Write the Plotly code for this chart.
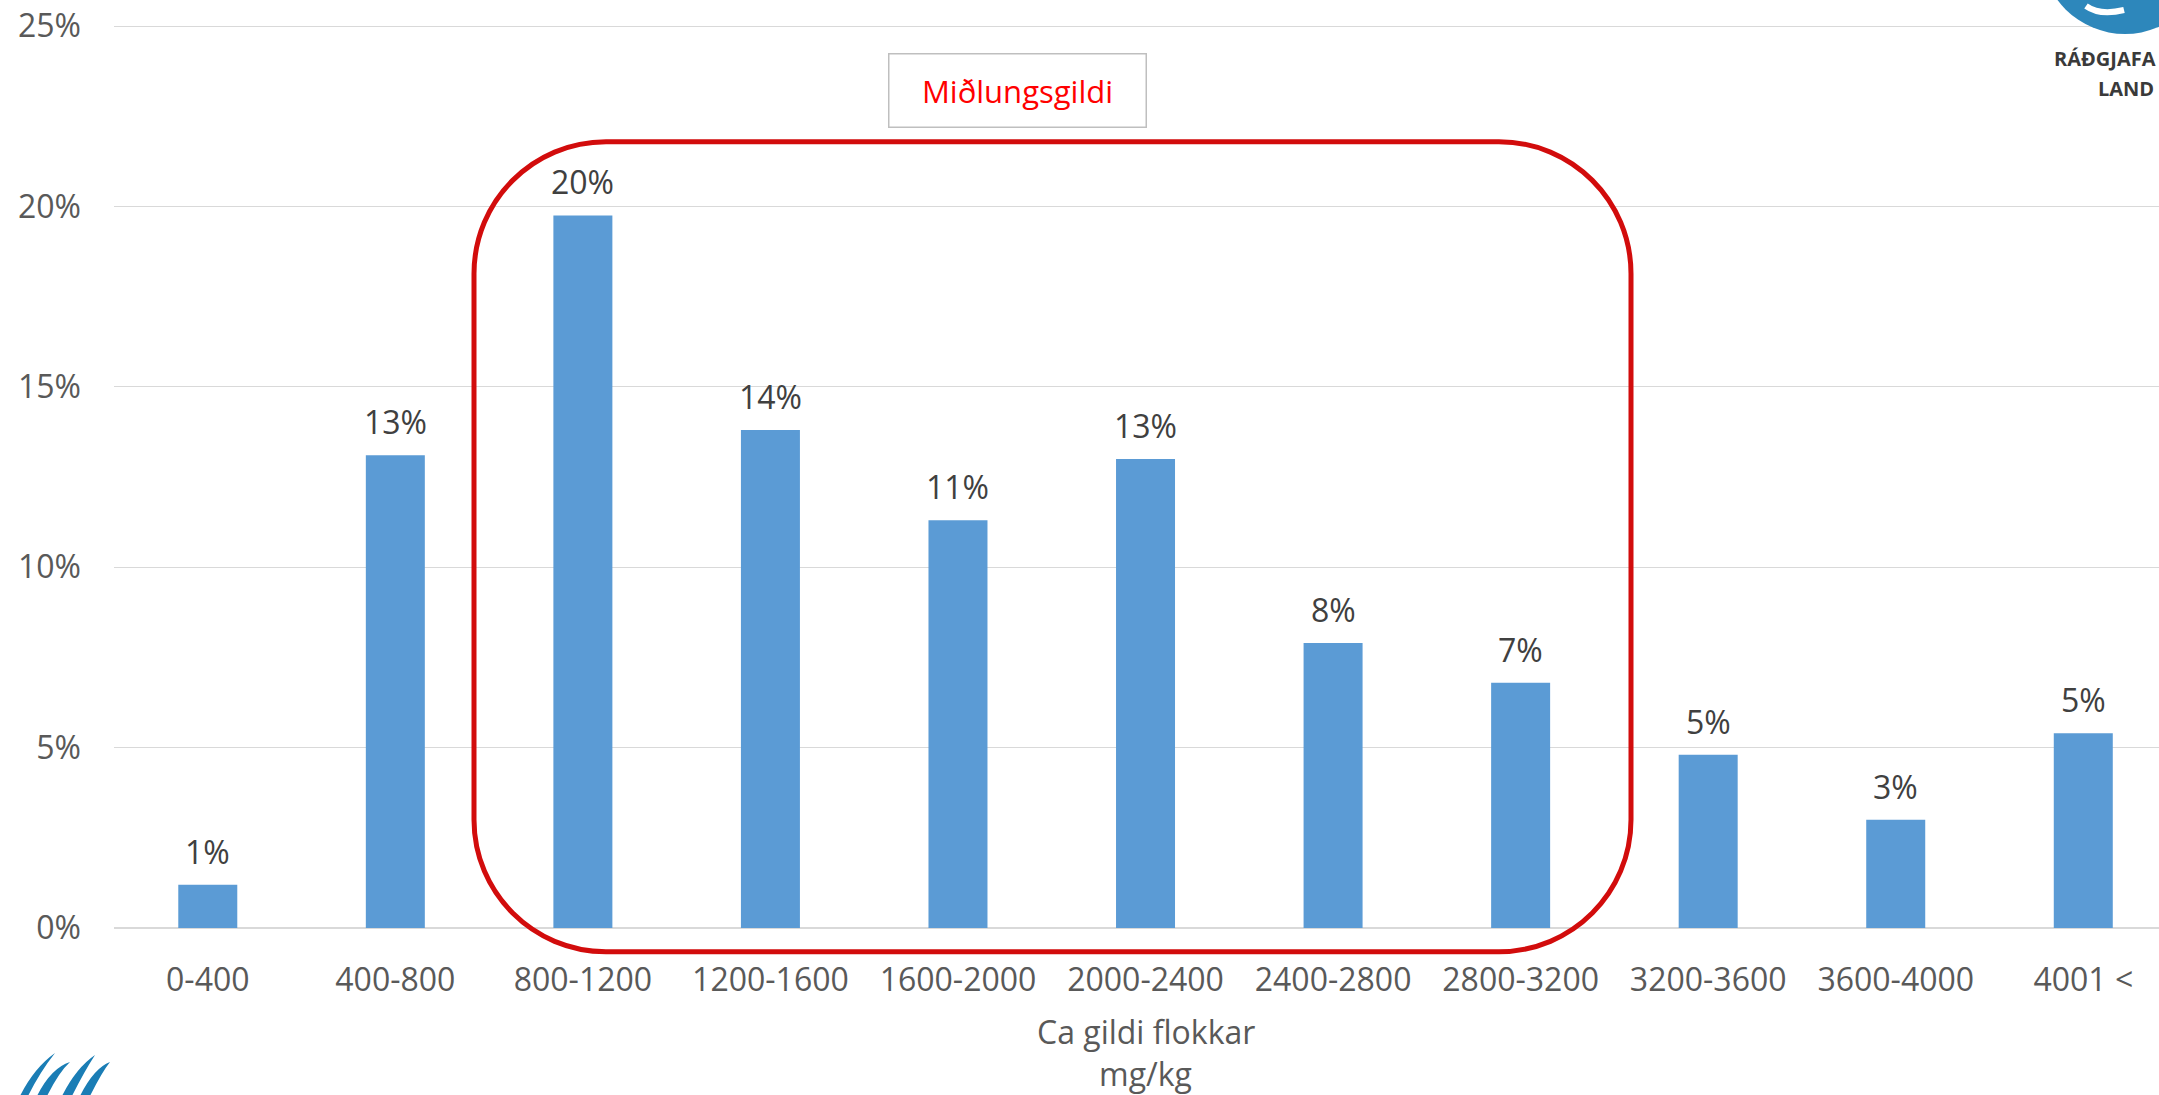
import plotly.graph_objects as go

# ---------------- data ----------------
categories = ["0-400", "400-800", "800-1200", "1200-1600", "1600-2000", "2000-2400",
              "2400-2800", "2800-3200", "3200-3600", "3600-4000", "4001 <"]
shares_pct = [1.2, 13.1, 19.75, 13.8, 11.3, 13.0, 7.9, 6.8, 4.8, 3.0, 5.4]
y_ticks = [0, 5, 10, 15, 20, 25]
y_tick_text = [f"{v}%" for v in y_ticks]
x_title_lines = ["Ca gildi flokkar", "mg/kg"]
box_label = "Miðlungsgildi"

# ---------------- layout constants (pixels) ----------------
OFF = 0                      # page body margin removed via post_script
W, H = 2159 - OFF, 1095 - OFF
PX_PER_PCT = 180.4 / 5
L_REF, BOTTOM_REF = 114, 928          # plot area in window pixels
TOP25_REF = BOTTOM_REF - 25 * PX_PER_PCT
T_REF = TOP25_REF - 4                 # a little headroom so the 25% grid line shows
Y_MAX = (BOTTOM_REF - T_REF) / PX_PER_PCT
L, T = L_REF - OFF, T_REF - OFF
PLOT_BOTTOM = BOTTOM_REF - OFF
PW = W - L
PH = PLOT_BOTTOM - T
CAT_PX = 187.55  # pixel width of one category slot

FONT = "Open Sans"
GREY = "#595959"


def px(x):
    """window x pixel -> paper coordinate"""
    return (x - L_REF) / PW


def py(y):
    """window y pixel -> paper coordinate"""
    return (BOTTOM_REF - y) / PH


def path_from(cmds):
    out = []
    for c in cmds:
        if isinstance(c, str):
            out.append(c)
        else:
            out.append(f"{px(c[0]):.5f},{py(c[1]):.5f}")
    return " ".join(out)


fig = go.Figure()
fig.add_trace(go.Bar(
    x=categories, y=shares_pct,
    marker=dict(color="#5B9BD5", line=dict(width=0)),
    hoverinfo="x+y",
))

# data labels
annotations = []
for c, v in zip(categories, shares_pct):
    annotations.append(dict(
        x=c, y=v, xref="x", yref="y", text=f"{v:.0f}%", showarrow=False,
        yanchor="bottom", yshift=10, font=dict(family=FONT, size=32, color="#404040"),
    ))

# axis title (two lines) centered on the middle category
for line, ypix in zip(x_title_lines, [1031, 1073]):
    annotations.append(dict(
        x=categories[len(categories) // 2], xref="x", y=py(ypix), yref="paper",
        text=line, showarrow=False, yanchor="middle",
        font=dict(family=FONT, size=32, color=GREY),
    ))

# text box "Miðlungsgildi"
annotations.append(dict(
    x=px(1017), y=py(90), xref="paper", yref="paper", text=box_label,
    showarrow=False, xanchor="center", yanchor="middle",
    width=254, height=70, bordercolor="#BFBFBF", borderwidth=1.5, bgcolor="white",
    font=dict(family=FONT, size=31, color="#FF0000"),
))

# logo text top-right
annotations.append(dict(
    x=px(2158), y=py(59), xref="paper", yref="paper", text="<b>RÁÐGJAFA</b>",
    showarrow=False, xanchor="right", yanchor="middle",
    font=dict(family=FONT, size=20, color="#3A3A3A"),
))
annotations.append(dict(
    x=px(2156), y=py(88), xref="paper", yref="paper", text="<b>LAND</b>",
    showarrow=False, xanchor="right", yanchor="middle",
    font=dict(family=FONT, size=20, color="#3A3A3A"),
))

shapes = []
# rounded red rectangle
x0, x1, y0, y1, r = 474, 1631, 141.7, 951.7, 132
k = 0.5523 * r
rr = [
    "M", (x0 + r, y0), "L", (x1 - r, y0),
    "C", (x1 - r + k, y0), (x1, y0 + r - k), (x1, y0 + r),
    "L", (x1, y1 - r),
    "C", (x1, y1 - r + k), (x1 - r + k, y1), (x1 - r, y1),
    "L", (x0 + r, y1),
    "C", (x0 + r - k, y1), (x0, y1 - r + k), (x0, y1 - r),
    "L", (x0, y0 + r),
    "C", (x0, y0 + r - k), (x0 + r - k, y0), (x0 + r, y0),
    "Z",
]
shapes.append(dict(type="path", xref="paper", yref="paper", path=path_from(rr),
                   line=dict(color="#D20C0C", width=5), fillcolor="rgba(0,0,0,0)",
                   layer="above"))

# top-right logo circle + swoosh
shapes.append(dict(type="circle", xref="paper", yref="paper",
                   x0=px(2041), x1=px(2209), y0=py(34), y1=py(-134),
                   fillcolor="#2D87BB", line=dict(width=0), layer="above"))
shapes.append(dict(type="path", xref="paper", yref="paper",
                   path=path_from(["M", (2086, 6), "Q", (2100, 16), (2124, 10)]),
                   line=dict(color="white", width=6), layer="above"))

# bottom-left logo strokes
strokes = [((20, 28), (55, 1053)), ((37, 47), (70, 1062)),
           ((62, 72), (95, 1055)), ((80, 90), (110, 1062))]
for (bl, br), (tx, ty) in strokes:
    shapes.append(dict(type="path", xref="paper", yref="paper",
                       path=path_from(["M", (bl, 1096), "Q", (bl + 14, 1068), (tx, ty),
                                       "Q", (br + 12, 1072), (br, 1096), "Z"]),
                       fillcolor="#1A7DB5", line=dict(width=0), layer="above"))

fig.update_layout(
    width=W, height=H,
    margin=dict(l=L, r=0, t=T, b=H - PLOT_BOTTOM, pad=0, autoexpand=False),
    paper_bgcolor="white", plot_bgcolor="white",
    showlegend=False, bargap=1 - 59 / CAT_PX,
    font=dict(family=FONT, size=32, color=GREY),
    annotations=annotations, shapes=shapes,
)
fig.update_xaxes(
    type="category", range=[-0.5, -0.5 + PW / CAT_PX], automargin=False,
    showgrid=False, showline=False, zeroline=False, ticks="",
    tickfont=dict(family=FONT, size=32, color=GREY), ticklabelstandoff=30,
)
fig.update_yaxes(
    range=[0, Y_MAX], tickvals=y_ticks, ticktext=y_tick_text, automargin=False,
    showgrid=True, gridcolor="#D9D9D9", gridwidth=1.3,
    zeroline=True, zerolinecolor="#D9D9D9", zerolinewidth=1.5,
    showline=False, ticks="", ticklabeloverflow="allow",
    tickfont=dict(family=FONT, size=32, color=GREY), ticklabelstandoff=32,
)

fig.write_html(
    "out.html",
    config={"displayModeBar": False},
    post_script="document.body.style.margin='0px'; document.body.style.overflow='hidden';",
)
